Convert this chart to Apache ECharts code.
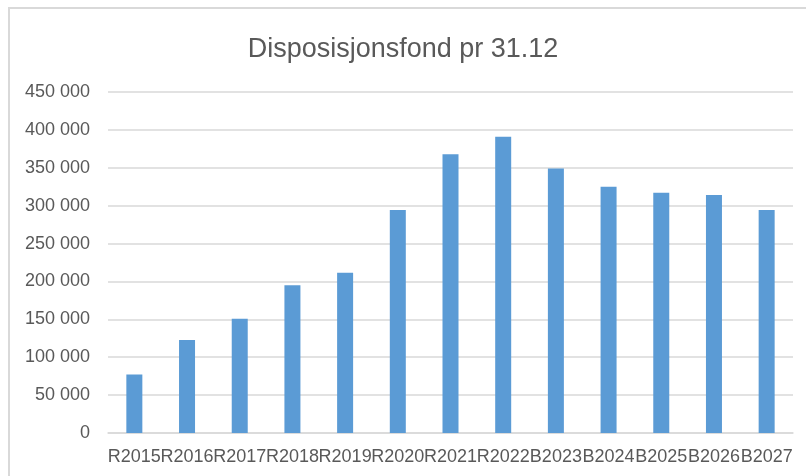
<!DOCTYPE html>
<html lang="no">
<head>
    <meta charset="UTF-8">
    <title>Disposisjonsfond</title>
    <script src="https://cdn.jsdelivr.net/npm/echarts@6/dist/echarts.min.js"></script>
    <style>
        html, body { margin: 0; padding: 0; background: #fff; }
        #main { width: 806px; height: 476px; }
    </style>
</head>
<body>
<div id="main"></div>
<script type="text/javascript">
    // kategorier og verdier lest av figuren
    var kategorier = ['R2015', 'R2016', 'R2017', 'R2018', 'R2019', 'R2020', 'R2021',
        'R2022', 'B2023', 'B2024', 'B2025', 'B2026', 'B2027'];
    var verdier = [77100, 122700, 150700, 195000, 211600, 294300, 367900,
        390800, 349100, 325100, 317200, 314100, 294300];
    var yMaks = 450000;
    var yIntervall = 50000;

    var myChart = echarts.init(document.getElementById('main'));

    function tusen(v) {
        return String(v).replace(/\B(?=(\d{3})+(?!\d))/g, ' ');
    }

    var option = {
        animation: false,
        textStyle: { fontFamily: 'Liberation Sans' },
        // rammen rundt diagrammet (bare venstre og topp synlig)
        graphic: [{
            type: 'rect',
            shape: { x: 9, y: 8, width: 820, height: 500 },
            style: { fill: 'none', stroke: '#d9d9d9', lineWidth: 2 }
        }],
        title: {
            text: 'Disposisjonsfond pr 31.12',
            left: 'center',
            top: 31,
            textStyle: { fontSize: 27, fontWeight: 'normal', color: '#595959', fontFamily: 'Liberation Sans' }
        },
        grid: { left: 108, right: 13, top: 92, bottom: 43 },
        xAxis: {
            type: 'category',
            data: kategorier,
            axisLine: { lineStyle: { color: '#d9d9d9', width: 1.5 } },
            axisTick: { show: false },
            axisLabel: { interval: 0, hideOverlap: false, margin: 15, fontSize: 18, color: '#595959' }
        },
        yAxis: {
            type: 'value',
            min: 0,
            max: yMaks,
            interval: yIntervall,
            axisLine: { show: false },
            axisTick: { show: false },
            splitLine: { lineStyle: { color: '#d9d9d9', width: 1.5 } },
            axisLabel: { margin: 18, fontSize: 18, color: '#595959', formatter: tusen }
        },
        series: [{
            name: 'Disposisjonsfond',
            type: 'bar',
            data: verdier,
            barWidth: 16,
            itemStyle: { color: '#5b9bd5' }
        }]
    };
    myChart.setOption(option);
</script>
</body>
</html>
